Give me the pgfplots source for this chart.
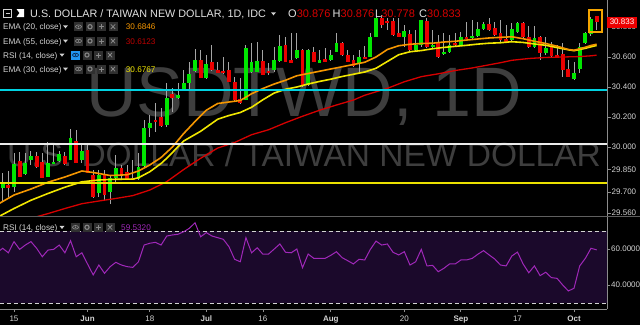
\documentclass[border=0pt]{standalone}
\usepackage{fontspec}
\setmainfont{Liberation Sans}
\usepackage{pgfplots}
\usepackage{pgfplotstable}
\pgfplotsset{compat=1.18}

\definecolor{cgreen}{RGB}{0,230,0}
\definecolor{cred}{RGB}{235,0,0}
\definecolor{wick}{RGB}{165,165,165}
\definecolor{ema20}{RGB}{245,150,0}
\definecolor{ema30}{RGB}{240,230,0}
\definecolor{ema55}{RGB}{215,0,0}
\definecolor{hcyan}{RGB}{0,210,225}
\definecolor{hwhite}{RGB}{235,235,235}
\definecolor{hyellow}{RGB}{235,225,0}
\definecolor{wm}{RGB}{62,62,62}
\definecolor{lbl}{RGB}{210,210,210}
\definecolor{hdr}{RGB}{225,225,225}
\definecolor{axgray}{RGB}{140,140,140}
\definecolor{sepc}{RGB}{95,95,95}
\definecolor{rsibg}{RGB}{27,9,43}
\definecolor{rsiline}{RGB}{160,40,185}
\definecolor{valred}{RGB}{215,0,0}
\definecolor{valred2}{RGB}{190,0,0}
\definecolor{iconbg}{RGB}{48,48,48}
\definecolor{iconfg}{RGB}{135,135,135}
\definecolor{blueic}{RGB}{33,150,243}
\definecolor{navy}{RGB}{10,40,80}
\definecolor{hl}{RGB}{245,165,0}

\pgfplotstableread{
i o h l c
-2 29.727 29.827 29.633 29.760
0 29.733 29.960 29.700 29.887
2 29.820 29.960 29.813 29.893
3 29.913 29.973 29.880 29.940
6 29.800 30.033 29.800 29.893
7 29.887 30.027 29.887 29.900
8 29.907 29.973 29.900 29.953
10 29.913 30.120 29.913 30.060
12 29.913 30.027 29.893 29.973
15 29.693 29.847 29.667 29.813
17 29.700 29.813 29.620 29.793
18 29.793 29.947 29.767 29.860
22 29.787 29.960 29.780 29.867
23 29.873 30.180 29.867 30.127
24 30.127 30.213 30.067 30.160
27 30.147 30.427 30.133 30.327
29 30.327 30.427 30.320 30.347
30 30.373 30.513 30.373 30.427
31 30.427 30.567 30.380 30.487
32 30.507 30.653 30.500 30.580
34 30.460 30.613 30.453 30.553
41 30.313 30.680 30.313 30.660
42 30.500 30.693 30.493 30.567
43 30.500 30.700 30.500 30.573
46 30.513 30.667 30.500 30.580
47 30.573 30.747 30.567 30.673
50 30.593 30.760 30.587 30.647
52 30.413 30.653 30.407 30.647
54 30.560 30.647 30.560 30.580
56 30.580 30.647 30.573 30.613
57 30.633 30.760 30.633 30.693
61 30.560 30.647 30.493 30.600
63 30.600 30.760 30.600 30.733
64 30.733 30.867 30.733 30.860
69 30.733 30.813 30.667 30.773
71 30.647 30.780 30.633 30.680
72 30.680 30.847 30.667 30.847
74 30.667 30.780 30.660 30.680
76 30.620 30.760 30.613 30.633
77 30.633 30.747 30.627 30.680
79 30.680 30.767 30.673 30.733
81 30.727 30.847 30.720 30.740
82 30.740 30.833 30.733 30.787
83 30.787 30.833 30.780 30.820
88 30.713 30.827 30.707 30.787
89 30.767 30.833 30.760 30.827
92 30.667 30.807 30.660 30.727
94 30.627 30.733 30.613 30.660
99 30.453 30.567 30.447 30.493
100 30.520 30.693 30.493 30.667
101 30.693 30.767 30.687 30.760
102 30.753 30.867 30.740 30.853
}\greencandles

\pgfplotstableread{
i o h l c
-1 29.747 29.840 29.667 29.727
1 29.907 29.967 29.800 29.800
4 29.940 29.967 29.860 29.867
5 29.900 29.960 29.793 29.793
9 29.940 29.967 29.880 29.887
11 30.040 30.113 29.893 29.893
13 29.980 30.013 29.827 29.827
14 29.813 29.847 29.660 29.667
16 29.813 29.847 29.647 29.680
19 29.860 29.880 29.780 29.813
20 29.833 29.880 29.780 29.787
21 29.793 29.913 29.780 29.787
25 30.180 30.293 30.100 30.173
26 30.200 30.260 30.133 30.140
28 30.353 30.393 30.233 30.327
33 30.580 30.647 30.460 30.460
35 30.567 30.680 30.507 30.513
36 30.513 30.567 30.493 30.493
37 30.507 30.600 30.487 30.493
38 30.513 30.567 30.433 30.433
39 30.433 30.467 30.300 30.313
40 30.320 30.460 30.287 30.293
44 30.573 30.647 30.480 30.480
45 30.507 30.560 30.480 30.493
48 30.680 30.733 30.567 30.567
49 30.580 30.760 30.560 30.560
51 30.647 30.653 30.400 30.407
53 30.633 30.667 30.567 30.567
55 30.587 30.660 30.567 30.567
58 30.693 30.700 30.607 30.613
59 30.613 30.647 30.567 30.567
60 30.580 30.613 30.533 30.540
62 30.600 30.673 30.587 30.587
65 30.860 30.880 30.793 30.813
66 30.840 30.860 30.780 30.827
67 30.840 30.860 30.740 30.747
68 30.760 30.860 30.733 30.733
70 30.753 30.780 30.633 30.647
73 30.840 30.860 30.660 30.667
75 30.693 30.747 30.593 30.600
78 30.693 30.760 30.667 30.680
80 30.733 30.833 30.720 30.720
84 30.820 30.860 30.773 30.780
85 30.793 30.833 30.740 30.747
86 30.760 30.847 30.700 30.713
87 30.720 30.813 30.693 30.693
90 30.827 30.833 30.727 30.733
91 30.733 30.807 30.660 30.667
93 30.733 30.740 30.580 30.627
95 30.667 30.700 30.600 30.607
96 30.613 30.680 30.593 30.600
97 30.620 30.693 30.467 30.513
98 30.520 30.580 30.467 30.467
103 30.876 30.876 30.778 30.833
}\redcandles

\pgfplotstableread{
i v
-3 29.615
0 29.680
3 29.720
6 29.765
9 29.800
12 29.840
14 29.830
17 29.810
20 29.815
22 29.840
24 29.880
26 29.930
28 30.000
30 30.090
32 30.170
34 30.245
36 30.290
38 30.300
40 30.310
42 30.355
44 30.390
46 30.420
48 30.445
50 30.475
52 30.490
54 30.505
56 30.520
58 30.535
60 30.550
62 30.565
64 30.600
66 30.650
68 30.675
70 30.685
72 30.690
74 30.692
76 30.700
78 30.705
80 30.713
82 30.720
84 30.727
86 30.731
88 30.735
90 30.722
92 30.705
94 30.690
96 30.672
98 30.650
99 30.645
100 30.655
101 30.665
102 30.677
103 30.685
}\emaA

\pgfplotstableread{
i v
-3 29.530
0 29.590
3 29.645
6 29.690
9 29.732
12 29.768
15 29.780
18 29.785
21 29.786
22 29.795
24 29.835
26 29.890
27 29.925
30 30.040
33 30.105
36 30.185
38 30.210
40 30.230
42 30.265
44 30.315
46 30.360
48 30.385
50 30.400
52 30.420
54 30.437
56 30.452
58 30.470
60 30.485
62 30.500
64 30.525
66 30.570
68 30.615
70 30.635
72 30.643
74 30.655
76 30.664
78 30.671
80 30.678
82 30.686
84 30.692
86 30.695
88 30.702
90 30.697
92 30.687
94 30.678
96 30.663
98 30.648
99 30.642
100 30.650
101 30.658
102 30.668
103 30.677
}\emaB

\pgfplotstableread{
i v
-3 29.490
4 29.535
6 29.556
9 29.590
12 29.622
15 29.640
18 29.657
21 29.676
24 29.713
27 29.769
30 29.850
33 29.925
36 29.993
39 30.030
42 30.082
45 30.115
48 30.162
51 30.205
54 30.245
57 30.280
60 30.313
62 30.345
66 30.391
69 30.435
72 30.469
75 30.488
78 30.510
81 30.527
84 30.548
86 30.562
88 30.578
91 30.590
94 30.597
97 30.600
100 30.603
102 30.608
103 30.6123
}\emaC

\pgfplotstableread{
i v
-3 58.0
-2 60.4
-1 57.9
0 64.1
1 59.8
2 62.2
3 64.1
4 60.4
5 55.7
6 59.4
7 59.8
8 62.2
9 57.9
10 64.6
11 55.7
12 57.9
13 51.7
14 45.6
15 51.1
16 46.5
17 50.2
18 52.6
19 51.1
20 50.2
21 49.8
22 52.9
23 62.2
24 63.2
25 63.7
26 62.2
27 67.2
28 67.8
29 68.2
30 69.6
31 71.5
32 74.6
33 66.8
34 69.1
35 67.2
36 66.3
37 65.4
38 61.3
39 54.3
40 52.9
41 66.3
42 57.9
43 60.7
44 57.1
45 57.2
46 60.0
47 62.8
48 58.2
49 57.9
50 60.0
51 49.6
52 57.2
53 54.8
54 54.8
55 54.8
56 56.5
57 58.5
58 55.2
59 53.5
60 51.7
61 54.3
62 53.9
63 59.8
64 64.4
65 62.2
66 62.8
67 58.2
68 56.7
69 58.5
70 51.1
71 52.9
72 59.8
73 50.6
74 50.9
75 47.4
76 49.3
77 51.7
78 51.7
79 53.9
80 53.9
81 54.8
82 57.1
83 59.1
84 56.7
85 54.4
86 51.1
87 50.6
88 56.1
89 58.3
90 51.7
91 46.8
92 50.6
93 45.2
94 47.1
95 44.1
96 43.7
97 40.0
98 36.7
99 38.2
100 50.6
101 54.8
102 60.4
103 59.53
}\rsidata

\newcommand{\icons}[4]{%
  \begin{scope}[shift={(#1pt,-#2pt)}]
    \fill[#3] (0pt,4.5pt) rectangle (9pt,-4.5pt);
    \draw[#4,line width=0.7pt] (4.5pt,0pt) ellipse [x radius=3pt, y radius=1.8pt];
    \fill[#4] (4.5pt,0pt) circle[radius=0.9pt];
    \fill[iconbg] (11.5pt,4.5pt) rectangle (20.5pt,-4.5pt);
    \draw[iconfg,line width=1.1pt] (16pt,0pt) circle[radius=2.1pt];
    \fill[iconbg] (23pt,4.5pt) rectangle (32pt,-4.5pt);
    \draw[iconfg,line width=0.9pt] (25pt,0pt) -- (30pt,0pt) (27.5pt,-2.5pt) -- (27.5pt,2.5pt);
    \fill[iconbg] (34.5pt,4.5pt) rectangle (43.5pt,-4.5pt);
    \draw[iconfg,line width=0.8pt] (36.8pt,-2.3pt) -- (41.2pt,2.3pt) (36.8pt,2.3pt) -- (41.2pt,-2.3pt);
  \end{scope}}
\newcommand{\tri}[2]{\fill[lbl] (#1pt,-#2pt) -- ++(5pt,0pt) -- ++(-2.5pt,-3pt) -- cycle;}

\begin{document}
\begin{tikzpicture}
\useasboundingbox (0pt,0pt) rectangle (640pt,-325pt);
\fill[black] (0pt,0pt) rectangle (640pt,-325pt);
% watermark
\node[anchor=base, inner sep=0pt, text=wm, font=\fontsize{70}{70}\selectfont] at (304pt,-116.5pt) {USDTWD, 1D};
\node[anchor=base, inner sep=0pt, text=wm, font=\fontsize{33.5}{33.5}\selectfont] at (304pt,-166pt) {U.S. DOLLAR / TAIWAN NEW DOLLAR};

% ---------- price panel ----------
\begin{axis}[
  at={(0pt,0pt)}, anchor=north west, scale only axis,
  width=607pt, height=216pt,
  xmin=-2.475, xmax=104.83, ymin=29.54, ymax=30.98,
  axis line style={draw=none},
  xtick=\empty,
  ytick={29.56,29.7,29.85,30,30.2,30.4,30.6,30.8},
  yticklabels={29.560,29.700,29.850,30.000,30.200,30.400,30.600,30.800},
  ytick pos=right, yticklabel pos=right,
  tick align=outside, major tick length=3.5pt,
  tick style={draw=axgray, line width=0.8pt},
  yticklabel style={font=\fontsize{8}{8}\selectfont, text=lbl, anchor=west, inner sep=0pt, xshift=1pt},
]
% wicks
\addplot[draw=none, mark=none, forget plot, error bars/.cd, y dir=both, y explicit, error mark=none,
  error bar style={line width=1pt, draw=wick}]
  table[x=i, y expr={(\thisrow{h}+\thisrow{l})/2}, y error expr={(\thisrow{h}-\thisrow{l})/2}] {\greencandles};
\addplot[draw=none, mark=none, forget plot, error bars/.cd, y dir=both, y explicit, error mark=none,
  error bar style={line width=1pt, draw=wick}]
  table[x=i, y expr={(\thisrow{h}+\thisrow{l})/2}, y error expr={(\thisrow{h}-\thisrow{l})/2}] {\redcandles};
% bodies
\addplot[draw=none, mark=none, forget plot, error bars/.cd, y dir=both, y explicit, error mark=none,
  error bar style={line width=3.8pt, draw=cgreen}]
  table[x=i, y expr={(\thisrow{o}+\thisrow{c})/2}, y error expr={max(abs(\thisrow{o}-\thisrow{c})/2,0.0035)}] {\greencandles};
\addplot[draw=none, mark=none, forget plot, error bars/.cd, y dir=both, y explicit, error mark=none,
  error bar style={line width=3.8pt, draw=cred}]
  table[x=i, y expr={(\thisrow{o}+\thisrow{c})/2}, y error expr={max(abs(\thisrow{o}-\thisrow{c})/2,0.0035)}] {\redcandles};
% EMAs
\addplot[ema55, line width=1.3pt, mark=none] table[x=i, y=v] {\emaC};
\addplot[ema30, line width=1.6pt, mark=none] table[x=i, y=v] {\emaB};
\addplot[ema20, line width=1.6pt, mark=none] table[x=i, y=v] {\emaA};
% horizontal levels
\addplot[hcyan, line width=1.5pt, mark=none] coordinates {(-5,30.38) (110,30.38)};
\addplot[hwhite, line width=2pt, mark=none] coordinates {(-5,30.018) (110,30.018)};
\addplot[hyellow, line width=2pt, mark=none] coordinates {(-5,29.762) (110,29.762)};
% highlight box around last bar
\draw[hl, line width=2pt] (axis cs:101.7,30.913) rectangle (axis cs:104.0,30.769);
\end{axis}

% ---------- RSI panel ----------
\begin{axis}[
  at={(0pt,-217.5pt)}, anchor=north west, scale only axis,
  width=607pt, height=91.5pt,
  xmin=-2.475, xmax=104.83, ymin=26.667, ymax=77.5,
  axis line style={draw=none},
  xtick={0,13,24,34,44,56,69,79,89,99},
  xticklabels={15,\textbf{Jun},18,\textbf{Jul},16,\textbf{Aug},20,\textbf{Sep},17,\textbf{Oct}},
  ytick={40,60}, yticklabels={40.0000,60.0000},
  xtick pos=bottom, ytick pos=right, yticklabel pos=right,
  tick align=outside, major tick length=3pt,
  tick style={draw=axgray, line width=0.8pt},
  yticklabel style={font=\fontsize{8}{8}\selectfont, text=lbl, anchor=west, inner sep=0pt, xshift=1pt},
  xticklabel style={font=\fontsize{8}{8}\selectfont, text=lbl, inner sep=0pt, anchor=north, yshift=-3.5pt},
]
\fill[rsibg] (axis cs:-5,30) rectangle (axis cs:110,70);
\addplot[lbl, line width=0.8pt, dash pattern=on 4pt off 3pt, mark=none] coordinates {(-5,70) (110,70)};
\addplot[lbl, line width=0.8pt, dash pattern=on 4pt off 3pt, mark=none] coordinates {(-5,30) (110,30)};
\addplot[rsiline, line width=1pt, mark=none] table[x=i, y=v] {\rsidata};
\end{axis}

% frame lines
\draw[axgray, line width=0.8pt] (607pt,0pt) -- (607pt,-309pt);
\draw[axgray, line width=0.8pt] (0pt,-309pt) -- (607pt,-309pt);
\draw[sepc, line width=1.8pt] (0pt,-216.5pt) -- (640pt,-216.5pt);

% last price label
\fill[cred] (607pt,-16.5pt) rectangle (637pt,-27.5pt);
\node[text=white, font=\fontsize{8}{8}\selectfont, inner sep=0pt] at (622pt,-22pt) {30.833};

% header line
\draw[lbl, line width=0.8pt] (3.5pt,-9pt) rectangle (11.5pt,-17pt);
\draw[lbl, line width=0.8pt] (5.5pt,-13pt) -- (9.5pt,-13pt);
\fill[white] (16.5pt,-9pt) -- (24pt,-9pt) -- (24pt,-17pt) -- (16.5pt,-17pt) -- (19.5pt,-13pt) -- cycle;
\node[anchor=base west, inner sep=0pt, text=hdr, font=\fontsize{10.8}{10.8}\selectfont] at (30pt,-17.3pt) {U.S. DOLLAR / TAIWAN NEW DOLLAR, 1D, IDC};
\tri{271}{12.3}
\node[anchor=base west, inner sep=0pt, font=\fontsize{11}{11}\selectfont] at (288pt,-17.3pt) {\textcolor{hdr}{O}\textcolor{valred}{30.876}};
\node[anchor=base west, inner sep=0pt, font=\fontsize{11}{11}\selectfont] at (332.5pt,-17.3pt) {\textcolor{hdr}{H}\textcolor{valred}{30.876}};
\node[anchor=base west, inner sep=0pt, font=\fontsize{11}{11}\selectfont] at (375pt,-17.3pt) {\textcolor{hdr}{L}\textcolor{valred}{30.778}};
\node[anchor=base west, inner sep=0pt, font=\fontsize{11}{11}\selectfont] at (419pt,-17.3pt) {\textcolor{hdr}{C}\textcolor{valred}{30.833}};

% indicator rows
\node[anchor=base west, inner sep=0pt, text=lbl, font=\fontsize{8.2}{8.2}\selectfont] at (3pt,-29.7pt) {EMA (20, close)};
\tri{63}{25.3}
\icons{74}{26.7}{iconbg}{iconfg}
\node[anchor=base west, inner sep=0pt, text=ema20, font=\fontsize{8.2}{8.2}\selectfont] at (125.7pt,-29.7pt) {30.6846};

\node[anchor=base west, inner sep=0pt, text=lbl, font=\fontsize{8.2}{8.2}\selectfont] at (3pt,-44pt) {EMA (55, close)};
\tri{63}{39.6}
\icons{74}{41}{iconbg}{iconfg}
\node[anchor=base west, inner sep=0pt, text=valred2, font=\fontsize{8.2}{8.2}\selectfont] at (125.7pt,-44pt) {30.6123};

\node[anchor=base west, inner sep=0pt, text=lbl, font=\fontsize{8.2}{8.2}\selectfont] at (3pt,-58pt) {RSI (14, close)};
\tri{59.5}{53.6}
\icons{71}{55}{blueic}{navy}

\node[anchor=base west, inner sep=0pt, text=lbl, font=\fontsize{8.2}{8.2}\selectfont] at (3pt,-72pt) {EMA (30, close)};
\tri{63}{67.6}
\icons{74}{69}{iconbg}{iconfg}
\node[anchor=base west, inner sep=0pt, text=ema30, font=\fontsize{8.2}{8.2}\selectfont] at (125.7pt,-72pt) {30.6767};

% RSI header
\node[anchor=base west, inner sep=0pt, text=lbl, font=\fontsize{8.2}{8.2}\selectfont] at (3pt,-230.3pt) {RSI (14, close)};
\tri{59.5}{225.9}
\icons{71}{227.3}{iconbg}{iconfg}
\node[anchor=base west, inner sep=0pt, text=rsiline, font=\fontsize{8.2}{8.2}\selectfont] at (121pt,-230.3pt) {59.5320};
\end{tikzpicture}
\end{document}
